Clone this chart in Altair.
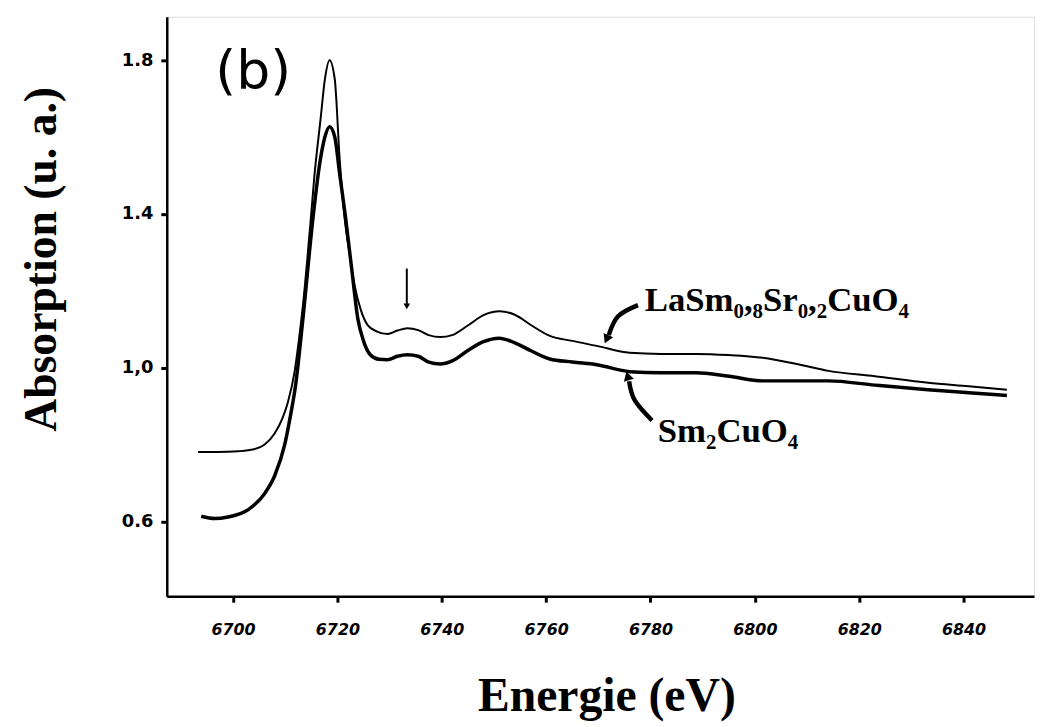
import altair as alt
import pandas as pd

# ---- data ----
la_energy = [6693.3, 6697, 6701, 6704, 6706, 6708, 6709.5, 6710.5, 6711.8, 6712.6, 6713.4,
             6714.9, 6715.6, 6716.8, 6717.6, 6718.5, 6719.5, 6720.4, 6721.4, 6722.3,
             6723.3, 6724.5, 6725.8, 6727.5, 6729.6, 6731.5, 6733.4, 6735.5, 6737.5,
             6739.7, 6742, 6745, 6748, 6751.1, 6754, 6757, 6760.7, 6765, 6769.7, 6776,
             6782, 6788.7, 6795, 6801.5, 6808, 6814.1, 6823, 6833.2, 6841, 6848.3]
la_abs = [0.781, 0.781, 0.783, 0.788, 0.80, 0.83, 0.87, 0.91, 0.99, 1.07, 1.163,
          1.387, 1.50, 1.65, 1.75, 1.80, 1.75, 1.55, 1.387, 1.30,
          1.214, 1.15, 1.111, 1.095, 1.088, 1.097, 1.103, 1.098, 1.085,
          1.080, 1.085, 1.110, 1.137, 1.147, 1.138, 1.112, 1.083, 1.070, 1.057, 1.039,
          1.036, 1.036, 1.033, 1.026, 1.010, 0.992, 0.978, 0.961, 0.952, 0.943]

sm_energy = [6693.9, 6696.5, 6699, 6703, 6706, 6708, 6709.9, 6711, 6712.0, 6713.4,
             6715.3, 6716.6, 6717.6, 6718.5, 6719.5, 6720.4, 6721.6, 6722.8, 6723.9,
             6725, 6726.3, 6728, 6729.6, 6731.5, 6733.4, 6735.5, 6737.5, 6739.7, 6742,
             6745, 6748, 6751, 6754, 6757, 6760.7, 6765, 6769.7, 6776, 6782, 6788.7,
             6795, 6801.5, 6808, 6814.1, 6823, 6833.2, 6841, 6848.3]
sm_abs = [0.614, 0.608, 0.612, 0.632, 0.672, 0.72, 0.80, 0.875, 0.956, 1.129,
          1.387, 1.53, 1.60, 1.627, 1.60, 1.508, 1.387, 1.25, 1.129,
          1.07, 1.034, 1.022, 1.021, 1.030, 1.034, 1.030, 1.015, 1.010, 1.018,
          1.045, 1.068, 1.077, 1.065, 1.045, 1.023, 1.015, 1.008, 0.990, 0.987, 0.987,
          0.978, 0.966, 0.966, 0.966, 0.955, 0.943, 0.935, 0.928]

x_ticks = [6700, 6720, 6740, 6760, 6780, 6800, 6820, 6840]
y_ticks = [0.6, 1.0, 1.4, 1.8]

# annotations (data coordinates)
label_text = ["LaSm₀,₈Sr₀,₂CuO₄", "Sm₂CuO₄"]
label_e = [6778.9, 6781.4]
label_v = [1.147, 0.806]

panel_text = ["(b)"]
panel_e = [6696.6]
panel_v = [1.766]

arrow_la_e = [6777.6, 6773.8, 6772.0]
arrow_la_v = [1.163, 1.134, 1.085]
arrow_sm_e = [6780.3, 6777.0, 6775.9]
arrow_sm_v = [0.863, 0.915, 0.965]
head_e = [6771.7, 6775.7]
head_v = [1.078, 0.975]
head_angle = [204, 344]

marker_e = [6733.3]
marker_top = [1.258]
marker_tip = [1.160]

# ---- build tables ----
la_df = pd.DataFrame({"E": la_energy, "A": la_abs})
sm_df = pd.DataFrame({"E": sm_energy, "A": sm_abs})
lab_df = pd.DataFrame({"E": label_e, "A": label_v, "t": label_text})
pan_df = pd.DataFrame({"E": panel_e, "A": panel_v, "t": panel_text})
arr_df = pd.DataFrame({
    "E": arrow_la_e + arrow_sm_e,
    "A": arrow_la_v + arrow_sm_v,
    "g": ["la"] * 3 + ["sm"] * 3,
    "i": [0, 1, 2, 0, 1, 2],
})
head_df = pd.DataFrame({"E": head_e, "A": head_v, "ang": head_angle})
mk_df = pd.DataFrame({"E": marker_e, "A": marker_top, "A2": marker_tip})

xs = alt.Scale(domain=[6687.3, 6853.5], nice=False, zero=False)
ys = alt.Scale(domain=[0.406, 1.913], nice=False, zero=False)

X = alt.X("E:Q", scale=xs, axis=alt.Axis(
    values=x_ticks, format="d", title="Energie (eV)", grid=False,
    labelFont="DejaVu Sans", labelFontSize=16, labelFontWeight="bold",
    labelFontStyle="italic", labelPadding=20, labelColor="black",
    tickSize=6, tickWidth=3, tickColor="black",
    domainColor="black", domainWidth=2.5,
    titleFont="Liberation Serif", titleFontSize=48, titleFontWeight="bold",
    titleColor="black", titleX=443, titleY=115, titleBaseline="alphabetic",
    titleAlign="center"))
Y = alt.Y("A:Q", scale=ys, axis=alt.Axis(
    values=y_ticks, title="Absorption (u. a.)", grid=False,
    labelExpr="datum.value == 1.8 ? '1.8' : datum.value == 1.4 ? '1.4' : datum.value == 1 ? '1,0' : '0.6'",
    labelFont="DejaVu Sans", labelFontSize=18, labelFontWeight="bold",
    labelPadding=8, labelColor="black",
    tickSize=6, tickWidth=3, tickColor="black",
    domainColor="black", domainWidth=2.5,
    titleFont="Liberation Serif", titleFontSize=46, titleFontWeight="bold",
    titleColor="black", titleX=-126, titleY=244, titleBaseline="middle",
    titleAlign="center", titleAngle=270))

la_line = alt.Chart(la_df).mark_line(color="black", strokeWidth=2, interpolate="monotone").encode(x=X, y=Y)
sm_line = alt.Chart(sm_df).mark_line(color="black", strokeWidth=3.5, interpolate="monotone").encode(x="E:Q", y="A:Q")

labels = alt.Chart(lab_df).mark_text(
    font="Liberation Serif", fontSize=35, fontWeight="bold", align="left",
    baseline="alphabetic", color="black").encode(x="E:Q", y="A:Q", text="t:N")
panel = alt.Chart(pan_df).mark_text(
    font="DejaVu Sans", fontSize=54, align="left", baseline="middle",
    color="black").encode(x="E:Q", y="A:Q", text="t:N")

arrows = alt.Chart(arr_df).mark_line(color="black", strokeWidth=4.5, interpolate="natural").encode(
    x="E:Q", y="A:Q", detail="g:N", order="i:Q")
heads = alt.Chart(head_df).mark_point(shape="triangle", filled=True, color="black",
                                      size=110, opacity=1).encode(
    x="E:Q", y="A:Q", angle=alt.Angle("ang:Q", scale=None))

marker = alt.Chart(mk_df).mark_rule(color="black", strokeWidth=2).encode(x="E:Q", y="A:Q", y2="A2:Q")
marker_head = alt.Chart(mk_df).mark_point(shape="triangle-down", filled=True, color="black",
                                          size=45, opacity=1).encode(x="E:Q", y="A2:Q")

chart = alt.layer(la_line, sm_line, labels, panel, arrows, heads, marker, marker_head).properties(
    width=874, height=584,
    autosize=alt.AutoSizeParams(type="none"),
    padding={"left": 160, "top": 6, "right": 3, "bottom": 128},
).configure_view(stroke="black", strokeWidth=2.5).configure(background="white")

chart.save("out.html", embed_options={"renderer": "svg", "actions": False})
